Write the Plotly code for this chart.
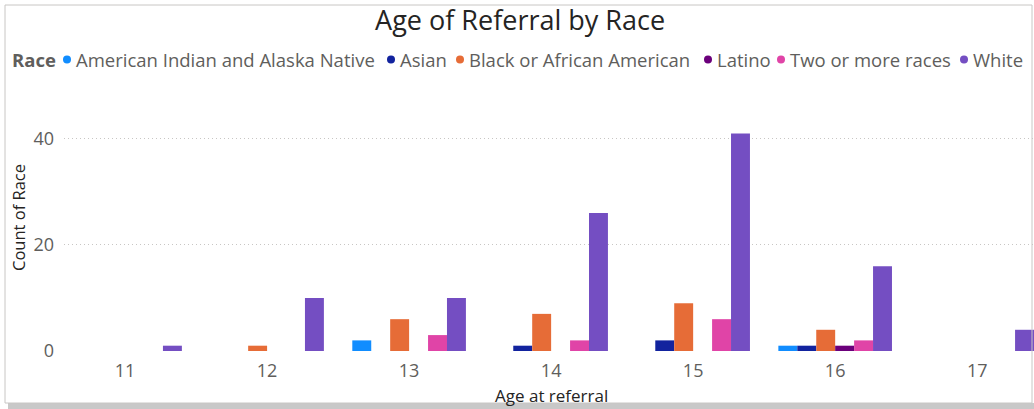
import plotly.graph_objects as go

ages = [11, 12, 13, 14, 15, 16, 17]
races = ["American Indian and Alaska Native", "Asian", "Black or African American",
         "Latino", "Two or more races", "White"]
colors = ["#118DFF", "#12239E", "#E66C37", "#6B007B", "#E044A7", "#744EC2"]

aian = [None, None, 2, None, None, 1, None]
asian = [None, None, None, 1, 2, 1, None]
black = [None, 1, 6, 7, 9, 4, None]
latino = [None, None, None, None, None, 1, None]
two_more = [None, None, 3, 2, 6, 2, None]
white = [1, 10, 10, 26, 41, 16, 4]

series = [aian, asian, black, latino, two_more, white]

# legend layout (pixel positions of the legend dots)
legend_dot_left = [63, 387, 456, 704, 777, 960]

W, H = 1034, 409
L, R, T, B = 64, 0, 107, 58
pw, ph = W - L - R, H - T - B

def px(xp):
    return (xp - L) / pw

def py(yp):
    return (H - B - yp) / ph

fig = go.Figure()
for name, col, vals in zip(races, colors, series):
    fig.add_trace(go.Bar(x=ages, y=vals, name=name, marker=dict(color=col, line=dict(width=0)),
                         showlegend=False))

font = "Segoe UI, Open Sans, sans-serif"
legend_y = 59.5

annotations = [
    dict(text="<b>Race</b>", xref="paper", yref="paper", x=px(10), y=py(legend_y),
         xanchor="left", yanchor="middle", showarrow=False,
         font=dict(size=18.5, color="#605E5C", family=font)),
    dict(text="Count of Race", xref="paper", yref="paper", x=px(18), y=py(218),
         xanchor="center", yanchor="middle", textangle=-90, showarrow=False,
         font=dict(size=16.5, color="#252423", family=font)),
    dict(text="Age at referral", xref="x", yref="paper", x=14, y=py(395),
         xanchor="center", yanchor="middle", showarrow=False,
         font=dict(size=17, color="#252423", family=font)),
]
shapes = [
    dict(type="rect", xref="paper", yref="paper", x0=px(8), x1=px(1034),
         y0=py(409), y1=py(403), line=dict(width=0), fillcolor="#C8C8C8"),
    dict(type="rect", xref="paper", yref="paper", x0=px(5), x1=px(1032),
         y0=py(403), y1=py(5), line=dict(width=1, color="#C8C6C4"),
         fillcolor="rgba(0,0,0,0)"),
]
for name, col, dl in zip(races, colors, legend_dot_left):
    shapes.append(dict(type="circle", xref="paper", yref="paper",
                       x0=px(dl), x1=px(dl + 8), y0=py(legend_y + 4), y1=py(legend_y - 4),
                       line=dict(width=0), fillcolor=col))
    annotations.append(dict(text=name, xref="paper", yref="paper", x=px(dl + 11),
                            y=py(legend_y), xanchor="left", yanchor="middle",
                            showarrow=False,
                            font=dict(size=18.5, color="#605E5C", family=font)))

fig.update_layout(
    width=W, height=H,
    margin=dict(l=L, r=R, t=T, b=B),
    paper_bgcolor="white", plot_bgcolor="white",
    barmode="group", bargap=0.2, bargroupgap=0,
    font=dict(family=font, color="#605E5C"),
    title=dict(text="Age of Referral by Race", x=0.503, xanchor="center",
               y=1 - 21 / H, yanchor="middle", yref="container",
               font=dict(family="Open Sans, sans-serif", size=27, color="#252423")),
    xaxis=dict(range=[10.57, 17.4], tickmode="array", tickvals=ages,
               ticktext=[str(a) for a in ages], showgrid=False, zeroline=False,
               showline=False, ticks="", ticklabelstandoff=7,
               tickfont=dict(size=18, color="#605E5C")),
    yaxis=dict(range=[0, 46], tickmode="array", tickvals=[0, 20, 40],
               showgrid=True, gridcolor="#C8C6C4", griddash="1px,3px", gridwidth=1,
               zeroline=False, showline=False, ticks="", ticklabelstandoff=9,
               tickfont=dict(size=18, color="#605E5C")),
    annotations=annotations,
    shapes=shapes,
)

fig.write_html("out.html", config={"displayModeBar": False},
               post_script="document.body.style.margin='0';document.body.style.overflow='hidden';")
